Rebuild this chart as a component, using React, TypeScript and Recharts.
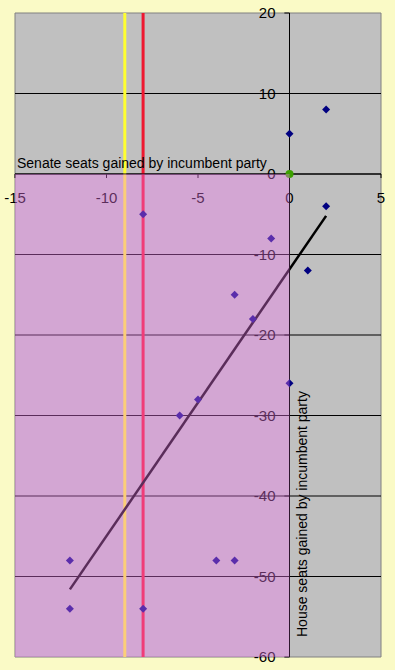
import React from 'react';
import {
  ScatterChart,
  Scatter,
  XAxis,
  YAxis,
  ReferenceLine,
  ReferenceArea,
  ReferenceDot,
} from 'recharts';

// Senate seats gained (x) vs House seats gained (y) by incumbent party
const senateGain = [2, 0, 2, -8, -1, 1, -3, -2, 0, -5, -6, -12, -12, -8, -4, -3];
const houseGain = [8, 5, -4, -5, -8, -12, -15, -18, -26, -28, -30, -48, -54, -54, -48, -48];
const highlightX = [0];
const highlightY = [0];
const trendX = [-12, 2];
const trendY = [-51.6, -5.2];
const xTicks = [-15, -10, -5, 0, 5];
const yTicks = [20, 10, 0, -10, -20, -30, -40, -50, -60];
const gridY = [10, 0, -10, -20, -30, -40, -50];
const markerX = [-9, -8];
const markerColors = ['#FFFF30', '#EE1830'];
const xTitle = 'Senate seats gained by incumbent party';
const yTitle = 'House seats gained by incumbent party';

const points = senateGain.map((x, i) => ({ x, y: houseGain[i] }));
const highlight = highlightX.map((x, i) => ({ x, y: highlightY[i] }));
const trend = trendX.map((x, i) => ({ x, y: trendY[i] }));

const FONT = "Arial, 'Liberation Sans', sans-serif";

const Diamond = (props: any) => {
  const { cx, cy } = props;
  if (cx == null || cy == null) return <g />;
  const r = 4;
  return (
    <path
      d={`M${cx},${cy - r}L${cx + r},${cy}L${cx},${cy + r}L${cx - r},${cy}Z`}
      fill="#000080"
    />
  );
};

const GreenDot = (props: any) => {
  const { cx, cy } = props;
  if (cx == null || cy == null) return <g />;
  return <circle cx={cx} cy={cy} r={4} fill="#3CA000" />;
};

const NoShape = () => <g />;

export default function App() {
  return (
    <div
      style={{
        position: 'absolute',
        left: 0,
        top: 0,
        width: 395,
        height: 670,
        background: '#FAFAC6',
        overflow: 'hidden',
      }}
    >
      <ScatterChart
        width={395}
        height={670}
        margin={{ top: 13, right: 14, bottom: 13, left: 15 }}
      >
        <XAxis
          type="number"
          dataKey="x"
          domain={[-15, 5]}
          ticks={xTicks}
          allowDataOverflow
          hide
        />
        <YAxis
          type="number"
          dataKey="y"
          domain={[-60, 20]}
          ticks={yTicks}
          allowDataOverflow
          hide
        />
        <ReferenceArea
          x1={-15}
          x2={5}
          y1={-60}
          y2={20}
          fill="#C0C0C0"
          fillOpacity={1}
          stroke="#808080"
          strokeWidth={1}
          ifOverflow="visible"
          zIndex={-200}
        />
        {gridY.map((v) => (
          <ReferenceLine key={'g' + v} y={v} stroke="#000" strokeWidth={1} ifOverflow="visible" />
        ))}
        {markerX.map((v, i) => (
          <ReferenceLine
            key={'m' + v}
            x={v}
            stroke={markerColors[i]}
            strokeWidth={3}
            ifOverflow="visible"
          />
        ))}
        <ReferenceLine
          x={0}
          stroke="#000"
          strokeWidth={1}
          ifOverflow="visible"
          label={(p: any) => {
            const vb = p.viewBox || {};
            const x0 = (vb.x ?? 0) + 17.5;
            const y0 = (vb.y ?? 0) + (vb.height ?? 0) - 20;
            return (
              <text
                x={x0}
                y={y0}
                transform={`rotate(-90, ${x0}, ${y0})`}
                fontSize={14}
                fontFamily={FONT}
                fill="#000"
                textAnchor="start"
              >
                {yTitle}
              </text>
            );
          }}
        />
        <ReferenceLine
          y={0}
          stroke="#000"
          strokeWidth={1}
          ifOverflow="visible"
          label={(p: any) => {
            const vb = p.viewBox || {};
            return (
              <text
                x={(vb.x ?? 0) + 2}
                y={(vb.y ?? 0) - 6}
                fontSize={14}
                fontFamily={FONT}
                fill="#000"
                textAnchor="start"
              >
                {xTitle}
              </text>
            );
          }}
        />
        {xTicks.map((t) => (
          <ReferenceLine
            key={'xt' + t}
            segment={[
              { x: t, y: 0 },
              { x: t, y: -0.5 },
            ]}
            stroke="#000"
            strokeWidth={1}
            ifOverflow="visible"
          />
        ))}
        {yTicks.map((t) => (
          <ReferenceLine
            key={'yt' + t}
            segment={[
              { x: -0.28, y: t },
              { x: 0, y: t },
            ]}
            stroke="#000"
            strokeWidth={1}
            ifOverflow="visible"
          />
        ))}
        <Scatter
          data={trend}
          line={{ stroke: '#000', strokeWidth: 2.5 }}
          shape={NoShape}
          isAnimationActive={false}
        />
        <Scatter data={points} shape={Diamond} isAnimationActive={false} />
        <Scatter data={highlight} shape={GreenDot} isAnimationActive={false} />
        {xTicks.map((t) => (
          <ReferenceDot
            key={'xl' + t}
            x={t}
            y={0}
            r={0}
            fill="none"
            stroke="none"
            ifOverflow="visible"
            label={{
              value: String(t),
              position: 'bottom',
              offset: 18,
              fontSize: 15,
              fontFamily: FONT,
              fill: '#000',
            }}
          />
        ))}
        {yTicks.map((t) => (
          <ReferenceDot
            key={'yl' + t}
            x={0}
            y={t}
            r={0}
            fill="none"
            stroke="none"
            ifOverflow="visible"
            label={{
              value: String(t),
              position: 'left',
              offset: 14,
              fontSize: 15,
              fontFamily: FONT,
              fill: '#000',
            }}
          />
        ))}
        <ReferenceArea
          x1={-15}
          x2={0}
          y1={-60}
          y2={0}
          fill="#F37AF3"
          fillOpacity={0.37}
          stroke="none"
          ifOverflow="visible"
          zIndex={3000}
        />
      </ScatterChart>
    </div>
  );
}
